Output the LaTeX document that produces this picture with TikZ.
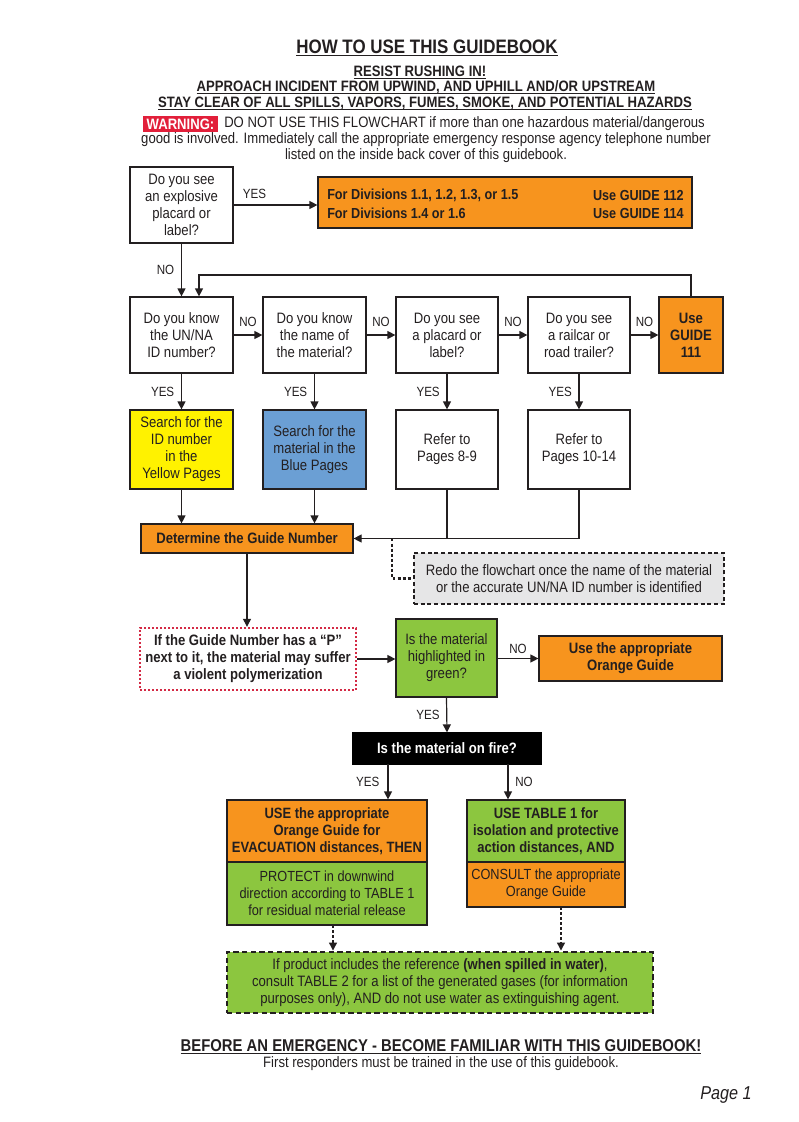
\documentclass[tikz,border=0pt]{standalone}
\usepackage{fontspec}
\setmainfont{Liberation Sans}[FakeStretch=0.87]
\usetikzlibrary{arrows.meta}
\definecolor{og}{HTML}{F7941E}
\definecolor{yl}{HTML}{FFF200}
\definecolor{bl}{HTML}{6B9FD4}
\definecolor{gr}{HTML}{8CC63F}
\definecolor{wr}{HTML}{E21F3A}
\definecolor{gy}{HTML}{E6E6E7}
\definecolor{pr}{HTML}{D42A45}
\definecolor{tx}{HTML}{231F20}
\newcommand\ulx[1]{\underline{\smash{#1}}}
\tikzset{
  bx/.style 2 args={draw=tx, line width=0.9pt, minimum width=#1*0.75pt, minimum height=#2*0.75pt, inner sep=0pt, align=center, font=\fontsize{11.3}{12.75}\selectfont, text=tx},
  lbl/.style={font=\fontsize{10}{11}\selectfont, text=tx, inner sep=0pt},
  arr/.style={draw=tx, line width=0.9pt, -{Triangle[width=6pt,length=6pt]}},
  ln/.style={draw=tx, line width=0.9pt},
  dots/.style={draw=tx, line width=2.2pt, dash pattern=on 2.2pt off 1.6pt},
  hd/.style={font=\bfseries\fontsize{11.3}{12}\selectfont, text=tx, inner sep=0pt, anchor=base},
  bodyt/.style={font=\fontsize{11.3}{12}\selectfont, text=tx, inner sep=0pt},
  divt/.style={draw=none, inner sep=0pt, text=tx, font=\bfseries\fontsize{10.9}{12}\selectfont},
}
\begin{document}
\begin{tikzpicture}[x=0.75pt,y=-0.75pt]
\useasboundingbox (0,0) rectangle (799,1122);
% header
\node[inner sep=0pt, anchor=base, font=\bfseries\fontsize{14.6}{16}\selectfont, text=tx] (title) at (427,53) {\ulx{HOW TO USE THIS GUIDEBOOK}};
\node[hd] (h1) at (420,76) {\ulx{RESIST RUSHING IN!}};
\node[hd] (h2) at (426,91.5) {\ulx{APPROACH INCIDENT FROM UPWIND, AND UPHILL AND/OR UPSTREAM}};
\node[hd] (h3) at (425,107.5) {\ulx{STAY CLEAR OF ALL SPILLS, VAPORS, FUMES, SMOKE, AND POTENTIAL HAZARDS}};
\node[fill=wr, minimum width=75*0.75pt, minimum height=16*0.75pt, inner sep=0pt, text=white, font=\bfseries\fontsize{11.3}{12}\selectfont] (warn) at (180.5,124) {WARNING:};
\node[bodyt, anchor=west] (w1) at (224,124) {DO NOT USE THIS FLOWCHART if more than one hazardous material/dangerous};
\node[bodyt] (w2) at (426,140) {good is involved. Immediately call the appropriate emergency response agency telephone number};
\node[bodyt] (w3) at (426,156) {listed on the inside back cover of this guidebook.};
% row 1
\node[bx={103}{76}] (exp) at (181.5,205) {Do you see\\an explosive\\placard or\\label?};
\node[bx={374}{51}, fill=og] (g112) at (505,202.5) {};
\node[divt, anchor=west] (d1) at (327,195) {For Divisions 1.1, 1.2, 1.3, or 1.5};
\node[divt, anchor=west] (d2) at (327,213) {For Divisions 1.4 or 1.6};
\node[divt, anchor=east] (u1) at (684,195) {Use GUIDE 112};
\node[divt, anchor=east] (u2) at (684,213) {Use GUIDE 114};
% row 2
\node[bx={103}{76}] (un) at (181.5,335) {Do you know\\the UN/NA\\ID number?};
\node[bx={103}{76}] (nm) at (314.5,335) {Do you know\\the name of\\the material?};
\node[bx={102}{76}] (pl) at (447,335) {Do you see\\a placard or\\label?};
\node[bx={102}{76}] (rl) at (579,335) {Do you see\\a railcar or\\road trailer?};
\node[bx={64}{76}, fill=og, font=\bfseries\fontsize{11.3}{12.75}\selectfont] (g111) at (691,335) {Use\\GUIDE\\111};
% row 3
\node[bx={103}{79}, fill=yl] (yel) at (181.5,449.5) {Search for the\\ID number\\in the\\Yellow Pages};
\node[bx={103}{79}, fill=bl] (blu) at (314.5,449.5) {Search for the\\material in the\\Blue Pages};
\node[bx={102}{79}] (p89) at (447,449.5) {Refer to\\Pages 8-9};
\node[bx={102}{79}] (p1014) at (579,449.5) {Refer to\\Pages 10-14};
% determine
\node[bx={212}{29}, fill=og, font=\bfseries\fontsize{11.3}{12}\selectfont] (det) at (247,538.5) {Determine the Guide Number};
\node[bx={310}{51}, fill=gy, draw=tx, line width=2pt, dash pattern=on 3pt off 2pt] (redo) at (569,578.5) {Redo the flowchart once the name of the material\\or the accurate UN/NA ID number is identified};
\node[bx={216}{62}, draw=pr, line width=1.8pt, dash pattern=on 1.5pt off 1.5pt, font=\bfseries\fontsize{11.3}{12.75}\selectfont] (poly) at (248,659) {If the Guide Number has a ``P''\\next to it, the material may suffer\\a violent polymerization};
\node[bx={101}{78}, fill=gr] (grn) at (446.5,658) {Is the material\\highlighted in\\green?};
\node[bx={183}{45}, fill=og, font=\bfseries\fontsize{11.3}{12.75}\selectfont] (ogd) at (630.5,658.5) {Use the appropriate\\Orange Guide};
\node[bx={188}{31}, fill=black, draw=black, text=white, font=\bfseries\fontsize{11.3}{12}\selectfont] (fire) at (447,748.5) {Is the material on fire?};
% lower
\node[bx={200}{62}, fill=og, font=\bfseries\fontsize{11.2}{12.6}\selectfont] (evac) at (327,831) {USE the appropriate\\Orange Guide for\\EVACUATION distances, THEN};
\node[bx={200}{63}, fill=gr, font=\fontsize{11}{12.6}\selectfont] (prot) at (327,893.5) {PROTECT in downwind\\direction according to TABLE 1\\for residual material release};
\node[bx={158}{62}, fill=gr, font=\bfseries\fontsize{11.2}{12.6}\selectfont] (tab1) at (546,831) {USE TABLE 1 for\\isolation and protective\\action distances, AND};
\node[bx={158}{45}, fill=og, font=\fontsize{11}{12.6}\selectfont] (cons) at (546,884.5) {CONSULT the appropriate\\Orange Guide};
\node[bx={426}{61}, fill=gr, draw=tx, line width=2.2pt, dash pattern=on 4pt off 2.5pt] (bot) at (440,982.5) {If product includes the reference \textbf{(when spilled in water)},\\consult TABLE 2 for a list of the generated gases (for information\\purposes only), AND do not use water as extinguishing agent.};
% footer
\node[inner sep=0pt, anchor=base, font=\bfseries\fontsize{12.8}{13}\selectfont, text=tx] (f1) at (441,1051) {\ulx{BEFORE AN EMERGENCY - BECOME FAMILIAR WITH THIS GUIDEBOOK!}};
\node[bodyt] (f2) at (441,1064) {First responders must be trained in the use of this guidebook.};
\node[inner sep=0pt, anchor=east, font=\itshape\fontsize{14}{15}\selectfont, text=tx] (pg) at (752,1095) {Page 1};
% connectors
\draw[arr] (exp.east) -- (exp.east -| g112.west) node[lbl, pos=0.25, above=4pt] (yes0) {YES};
\draw[arr] (exp.south) -- (un.north) node[lbl, midway, left=5pt] (no0) {NO};
\coordinate (fbt) at (691,275);
\coordinate (fbd) at (199,275);
\draw[arr] (g111.north) -- (fbt) -- (fbd) -- (fbd |- un.north);
\draw[arr] (un.east) -- (nm.west) node[lbl, midway, above=6pt] (no1) {NO};
\draw[arr] (nm.east) -- (pl.west) node[lbl, midway, above=6pt] (no2) {NO};
\draw[arr] (pl.east) -- (rl.west) node[lbl, midway, above=6pt] (no3) {NO};
\draw[arr] (rl.east) -- (g111.west) node[lbl, midway, above=6pt] (no4) {NO};
\draw[arr] (un.south) -- (yel.north) node[lbl, midway, left=5pt] (y1) {YES};
\draw[arr] (nm.south) -- (blu.north) node[lbl, midway, left=5pt] (y2) {YES};
\draw[arr] (pl.south) -- (p89.north) node[lbl, midway, left=5pt] (y3) {YES};
\draw[arr] (rl.south) -- (p1014.north) node[lbl, midway, left=5pt] (y4) {YES};
\draw[arr] (yel.south) -- (yel.south |- det.north);
\draw[arr] (blu.south) -- (blu.south |- det.north);
\draw[ln] (p89.south) -- (p89.south |- det.east);
\draw[arr] (p1014.south) -- (p1014.south |- det.east) -- (det.east);
\coordinate (dt) at (392,538.5);
\coordinate (db) at (392,578.5);
\draw[dots] (dt) -- (db) -- (redo.west);
\draw[arr] (det.south) -- (det.south |- poly.north);
\draw[arr] (poly.east) -- (poly.east -| grn.west);
\draw[arr] (grn.east |- ogd.west) -- (ogd.west) node[lbl, midway, above=3pt] (no5) {NO};
\draw[arr] (grn.south) -- (fire.north) node[lbl, midway, left=5pt] (y5) {YES};
\coordinate (fy) at (388,764);
\coordinate (fn) at (508,764);
\draw[arr] (fy) -- (fy |- evac.north) node[lbl, midway, left=6pt] (y6) {YES};
\draw[arr] (fn) -- (fn |- tab1.north) node[lbl, midway, right=5pt] (no6) {NO};
\coordinate (pb) at (333,925);
\coordinate (cb) at (561,907);
\draw[dots] (pb) -- (333,946);
\draw[dots] (cb) -- (561,946);
\draw[arr] (333,944) -- (pb |- bot.north);
\draw[arr] (561,944) -- (cb |- bot.north);
\end{tikzpicture}
\end{document}
